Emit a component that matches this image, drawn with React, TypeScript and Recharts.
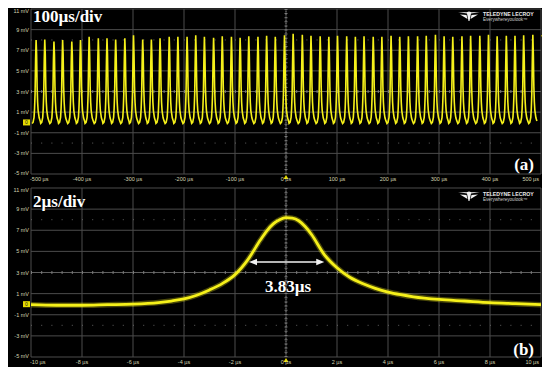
import {
  CartesianGrid,
  Line,
  LineChart,
  ReferenceDot,
  ReferenceLine,
  XAxis,
  YAxis,
} from 'recharts';

// scope grid: 8 vertical divisions of 2 mV, 10 horizontal divisions
const voltTicks = [-5, -3, -1, 1, 3, 5, 7, 9, 11];
const wideTicks = [-500, -400, -300, -200, -100, 0, 100, 200, 300, 400, 500];
const zoomTicks = [-10, -8, -6, -4, -2, 0, 2, 4, 6, 8, 10];

// (a) 100 µs/div: pulse train, peak time (µs) and peak level (mV) of each pulse
const pulsePeaks = [
  -490, -473, -455, -438, -420, -403, -386, -368, -351, -334, -316, -299, -281, -264, -247, -229,
  -212, -194, -177, -160, -142, -125, -107, -90, -73, -55, -38, -21, -3, 14, 32, 49, 67, 84, 101,
  119, 136, 153, 171, 188, 206, 223, 240, 258, 275, 293, 310, 327, 345, 362, 380, 397, 414, 432,
  449, 466, 484,
];
const pulseHeights = [
  8.0, 8.05, 7.85, 8.0, 7.85, 8.0, 8.3, 8.15, 8.15, 8.05, 8.15, 8.45, 8.05, 8.05, 8.15, 8.3, 8.3,
  8.3, 8.45, 8.3, 8.2, 8.35, 8.3, 8.2, 8.35, 8.3, 8.4, 8.3, 8.45, 8.6, 8.5, 8.4, 8.35, 8.3, 8.4,
  8.35, 8.3, 8.35, 8.3, 8.3, 8.4, 8.3, 8.35, 8.35, 8.4, 8.5, 8.35, 8.3, 8.35, 8.4, 8.4, 8.5, 8.35,
  8.4, 8.4, 8.45, 8.5,
];
// single pulse flanks around each peak (µs offset -> mV), as seen in (b)
const pulseOffsets = [-8, -6, -4, -3, -2, -1, 0, 1, 2, 3, 4, 6, 8];
const pulseFlanks = [-0.1, 0.0, 0.5, 1.35, 2.8, 6.1, 0, 6.6, 3.45, 1.95, 1.15, 0.45, 0.15];

// (b) 2 µs/div: one pulse
const zoomTimes = [
  -10, -9, -8, -7, -6, -5, -4.5, -4, -3.5, -3, -2.5, -2, -1.5, -1, -0.75, -0.5, -0.25, 0, 0.25, 0.5,
  0.75, 1, 1.5, 2, 2.5, 3, 3.5, 4, 4.5, 5, 6, 7, 8, 9, 10,
];
const zoomLevels = [
  -0.05, -0.1, -0.1, -0.05, 0.0, 0.15, 0.3, 0.5, 0.85, 1.35, 1.95, 2.8, 4.2, 6.1, 6.95, 7.6, 8.0,
  8.2, 8.15, 7.9, 7.35, 6.6, 4.7, 3.45, 2.55, 1.95, 1.5, 1.15, 0.9, 0.7, 0.45, 0.3, 0.15, 0.05,
  -0.05,
];
const fwhmFrom = -1.45;
const fwhmTo = 1.5;
const fwhmLevel = 4.0;

const wideData = pulsePeaks.flatMap((t0, i) =>
  pulseOffsets.map((d, k) => ({ t: t0 + d, v: d === 0 ? pulseHeights[i] : pulseFlanks[k] })),
);
const zoomData = zoomTimes.map((t, i) => ({ t, v: zoomLevels[i] }));

const traceColor = '#f5f01a';
const gridColor = '#4c4c4c';
const labelColor = '#d4d4b0';
const sans = '"Liberation Sans", Arial, sans-serif';
const serif = '"Liberation Serif", "Times New Roman", serif';

const voltTick = (p: any) => {
  const v = p.payload.value as number;
  const shift = v === 11 ? 2 : v === -5 ? -1 : 0;
  return (
    <text x={p.x} y={p.y + shift} dy={2} textAnchor="end" fontSize={5.5} fontFamily={sans} fill={labelColor}>
      {`${v} mV`}
    </text>
  );
};

const timeTick = (lo: number, hi: number) => (p: any) => {
  const v = p.payload.value as number;
  const anchor = v === lo ? 'start' : v === hi ? 'end' : 'middle';
  const dx = v === lo ? -1 : v === hi ? -2 : 0;
  return (
    <text x={p.x + dx} y={p.y} dy={5} textAnchor={anchor} fontSize={5.5} fontFamily={sans} fill={labelColor}>
      {`${v} µs`}
    </text>
  );
};

const zeroTag = (p: any) => (
  <g>
    <rect x={p.cx - 8} y={p.cy - 3} width={7} height={6} fill="#e6dc00" />
    <text x={p.cx - 4.5} y={p.cy + 2} textAnchor="middle" fontSize={5} fontFamily={sans} fill="#222">
      0
    </text>
  </g>
);

const triggerMark = (p: any) => (
  <polygon points={`${p.cx},${p.cy + 1} ${p.cx - 2.5},${p.cy + 5} ${p.cx + 2.5},${p.cy + 5}`} fill="#e6dc00" />
);

const levelMark = (p: any) => (
  <polygon points={`${p.cx},${p.cy} ${p.cx + 3},${p.cy - 2.5} ${p.cx + 3},${p.cy + 2.5}`} fill="#e6dc00" />
);

const widthArrow = (p: any) => {
  const { x1, y1, x2 } = p;
  return (
    <g>
      <line x1={x1 + 4} y1={y1} x2={x2 - 4} y2={y1} stroke="#f2f2f2" strokeWidth={1.6} />
      <polygon points={`${x1},${y1} ${x1 + 8},${y1 - 3.2} ${x1 + 8},${y1 + 3.2}`} fill="#f2f2f2" />
      <polygon points={`${x2},${y1} ${x2 - 8},${y1 - 3.2} ${x2 - 8},${y1 + 3.2}`} fill="#f2f2f2" />
    </g>
  );
};

// centre cross of the graticule: grey line with minor-division tick marks
const centreLines = (hGap: string, vGap: string) => [
  <ReferenceLine key="cx" x={0} stroke="#6a6a6a" strokeDasharray="1 2" />,
  <ReferenceLine key="cxt" x={0} stroke="#7a7a7a" strokeWidth={3} strokeDasharray={vGap} />,
  <ReferenceLine key="cy" y={3} stroke="#5e5e5e" />,
  <ReferenceLine key="cyt" y={3} stroke="#7a7a7a" strokeWidth={3} strokeDasharray={hGap} />,
  <ReferenceLine key="d8" y={8} stroke="#606060" strokeDasharray="1 9.2" />,
  <ReferenceLine key="d2" y={-2} stroke="#606060" strokeDasharray="1 9.2" />,
];

function Logo({ x, y }: { x: number; y: number }) {
  return (
    <g transform={`translate(${x},${y})`}>
      <polygon points="0,0 9,1.5 10.5,9 11.5,9 13,1.5 22,0 13.5,0.2 11,-0.5 8.5,0.2" fill="#f0f0f0" />
      <polygon points="2,2.5 8.5,3 9.5,7" fill="#f0f0f0" />
      <polygon points="20,2.5 13.5,3 12.5,7" fill="#f0f0f0" />
      <text x={25} y={4} fontSize={5.2} fontWeight="bold" fontFamily={sans} fill="#ececec">
        TELEDYNE LECROY
      </text>
      <text x={25} y={9} fontSize={4.6} fontFamily={sans} fill="#cfcfcf">
        Everywhereyoulook™
      </text>
    </g>
  );
}

const panel = (top: number, height: number) => ({
  position: 'absolute' as const,
  left: 8,
  top,
  width: 535,
  height,
  background: '#000',
});

export default function App() {
  return (
    <div style={{ position: 'relative', width: 550, height: 375, margin: -8, background: '#fff' }}>
      <div style={panel(6, 179)}>
        <LineChart width={535} height={179} data={wideData} margin={{ top: 3, right: 2, left: 0, bottom: 0 }}>
          <CartesianGrid stroke={gridColor} />
          <XAxis
            type="number"
            dataKey="t"
            domain={[-500, 500]}
            ticks={wideTicks}
            interval={0}
            allowDataOverflow
            axisLine={false}
            tickLine={false}
            tickSize={0}
            tickMargin={2}
            height={11}
            tick={timeTick(-500, 500)}
          />
          <YAxis
            type="number"
            domain={[-5, 11]}
            ticks={voltTicks}
            interval={0}
            allowDataOverflow
            axisLine={false}
            tickLine={false}
            tickSize={0}
            tickMargin={2}
            width={23}
            tick={voltTick}
          />
          {centreLines('1 9.2', '1 3.1')}
          <Line
            type="linear"
            dataKey="v"
            stroke={traceColor}
            strokeWidth={1.6}
            dot={false}
            isAnimationActive={false}
          />
          <ReferenceDot x={-500} y={0} ifOverflow="visible" shape={zeroTag} />
          <ReferenceDot x={0} y={-5} ifOverflow="visible" shape={triggerMark} />
          <ReferenceDot x={500} y={8.4} ifOverflow="visible" shape={levelMark} />
        </LineChart>
      </div>
      <div style={panel(185, 182)}>
        <LineChart width={535} height={182} data={zoomData} margin={{ top: 3, right: 2, left: 0, bottom: 0 }}>
          <CartesianGrid stroke={gridColor} />
          <XAxis
            type="number"
            dataKey="t"
            domain={[-10, 10]}
            ticks={zoomTicks}
            interval={0}
            allowDataOverflow
            axisLine={false}
            tickLine={false}
            tickSize={0}
            tickMargin={2}
            height={10}
            tick={timeTick(-10, 10)}
          />
          <YAxis
            type="number"
            domain={[-5, 11]}
            ticks={voltTicks}
            interval={0}
            allowDataOverflow
            axisLine={false}
            tickLine={false}
            tickSize={0}
            tickMargin={2}
            width={23}
            tick={voltTick}
          />
          {centreLines('1 9.2', '1 3.2')}
          <Line
            type="monotone"
            dataKey="v"
            stroke={traceColor}
            strokeOpacity={0.3}
            strokeWidth={5.5}
            dot={false}
            isAnimationActive={false}
          />
          <Line
            type="monotone"
            dataKey="v"
            stroke={traceColor}
            strokeWidth={2.8}
            dot={false}
            isAnimationActive={false}
          />
          <ReferenceLine
            segment={[
              { x: fwhmFrom, y: fwhmLevel },
              { x: fwhmTo, y: fwhmLevel },
            ]}
            shape={widthArrow}
          />
          <ReferenceDot x={-10} y={0} ifOverflow="visible" shape={zeroTag} />
          <ReferenceDot x={0} y={-5} ifOverflow="visible" shape={triggerMark} />
        </LineChart>
      </div>
      <svg
        width={550}
        height={375}
        style={{ position: 'absolute', left: 0, top: 0, pointerEvents: 'none' }}
      >
        <Logo x={458} y={12} />
        <Logo x={458} y={192} />
        <g fontFamily={serif} fontWeight="bold" fontSize={17} fill="#ffffff">
          <text x={33} y={22}>100µs/div</text>
          <text x={33} y={207}>2µs/div</text>
          <text x={534} y={170} textAnchor="end">(a)</text>
          <text x={534} y={355} textAnchor="end">(b)</text>
          <text x={288} y={292} textAnchor="middle">3.83µs</text>
        </g>
      </svg>
    </div>
  );
}
